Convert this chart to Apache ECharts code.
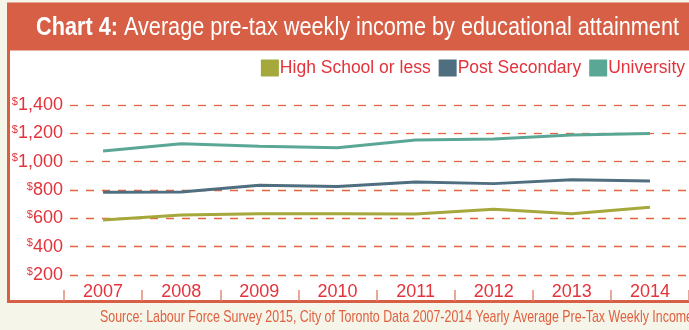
<!DOCTYPE html>
<html>
<head>
<meta charset="utf-8">
<script src="https://cdn.jsdelivr.net/npm/echarts@6/dist/echarts.min.js"></script>
<style>html,body{margin:0;padding:0;background:#f6f5ea;}#c{width:689px;height:330px;}</style>
</head>
<body>
<div id="c"></div>
<script>
const years = ['2007','2008','2009','2010','2011','2012','2013','2014'];
const highSchool = [588, 624, 633, 633, 630, 664, 633, 678];
const postSecondary = [784, 786, 833, 824, 856, 845, 873, 864];
const university = [1075, 1127, 1109, 1099, 1153, 1160, 1188, 1199];
const seriesNames = ['High School or less', 'Post Secondary', 'University'];
const titleBold = 'Chart 4:';
const titleText = 'Average pre-tax weekly income by educational attainment';
const sourceText = 'Source: Labour Force Survey 2015, City of Toronto Data 2007-2014 Yearly Average Pre-Tax Weekly Income';

const FONT = '"Liberation Sans", Arial, sans-serif';
const RED = '#e3333b';
const ORANGE = '#d65f45';
const colors = ['#a5a83a', '#4f6e80', '#5ba796'];

const ctx = document.createElement('canvas').getContext('2d');
function textW(t, font) { ctx.font = font; return ctx.measureText(t).width; }
const TITLE_FS = 25;
const titleW = textW(titleBold, 'bold ' + TITLE_FS + 'px "Liberation Sans"') +
               textW(' ' + titleText, TITLE_FS + 'px "Liberation Sans"');
const titleScale = 643 / titleW;
const SRC_FS = 17;
const srcScale = 593 / textW(sourceText, SRC_FS + 'px "Liberation Sans"');

const chart = echarts.init(document.getElementById('c'));
const fmt = v => v.toLocaleString('en-US');
chart.setOption({
  backgroundColor: '#f6f5ea',
  textStyle: { fontFamily: FONT },
  color: colors,
  graphic: [
    { type: 'rect', z: -10, shape: { x: 8.5, y: 4, width: 720, height: 297.5 },
      style: { fill: '#ffffff', stroke: ORANGE, lineWidth: 3 } },
    { type: 'rect', z: -9, shape: { x: 7, y: 4, width: 720, height: 46.5 },
      style: { fill: ORANGE } },
    { type: 'text', z: 10, x: 36, y: 28, scaleX: titleScale,
      style: { text: '{b|' + titleBold + '}{r| ' + titleText + '}', verticalAlign: 'middle',
        rich: {
          b: { fontFamily: FONT, fontWeight: 'bold', fontSize: TITLE_FS, fill: '#fff' },
          r: { fontFamily: FONT, fontSize: TITLE_FS, fill: '#fff' }
        } } },
    { type: 'text', z: 10, x: 100, y: 317.5, scaleX: srcScale,
      style: { text: sourceText, fontFamily: FONT, fontSize: SRC_FS, fill: '#e0603f', verticalAlign: 'middle' } }
  ],
  legend: {
    data: seriesNames,
    right: 4, top: 59, padding: 0,
    itemWidth: 18, itemHeight: 17, itemGap: 8,
    icon: 'rect',
    textStyle: { color: RED, fontSize: 17.5, fontFamily: FONT, padding: [0, 0, 0, -4] }
  },
  grid: { left: 64, right: -3, top: 105, bottom: 55, containLabel: false },
  xAxis: {
    type: 'category',
    data: years,
    boundaryGap: true,
    offset: 15,
    axisLine: { show: false },
    axisTick: { show: true, length: 11, lineStyle: { color: '#e48a76', width: 1.5 } },
    axisLabel: { color: RED, fontSize: 18, fontFamily: FONT, margin: -7 },
    splitLine: { show: false }
  },
  yAxis: {
    type: 'value',
    min: 200, max: 1400, interval: 200,
    axisLine: { show: false },
    axisTick: { show: false },
    axisLabel: {
      margin: 1,
      formatter: v => '{s|$}{v|' + fmt(v) + '}',
      rich: {
        s: { fontSize: 11, color: RED, fontFamily: FONT, verticalAlign: 'top', padding: [0, 0, 7, 0] },
        v: { fontSize: 18, color: RED, fontFamily: FONT }
      }
    },
    splitLine: { show: true, lineStyle: { color: '#e5633f', width: 1.3, type: [8, 8], dashOffset: 10 } }
  },
  series: [
    { name: seriesNames[0], type: 'line', data: highSchool, symbol: 'none', lineStyle: { width: 3 } },
    { name: seriesNames[1], type: 'line', data: postSecondary, symbol: 'none', lineStyle: { width: 3 } },
    { name: seriesNames[2], type: 'line', data: university, symbol: 'none', lineStyle: { width: 3 } }
  ]
});
</script>
</body>
</html>
